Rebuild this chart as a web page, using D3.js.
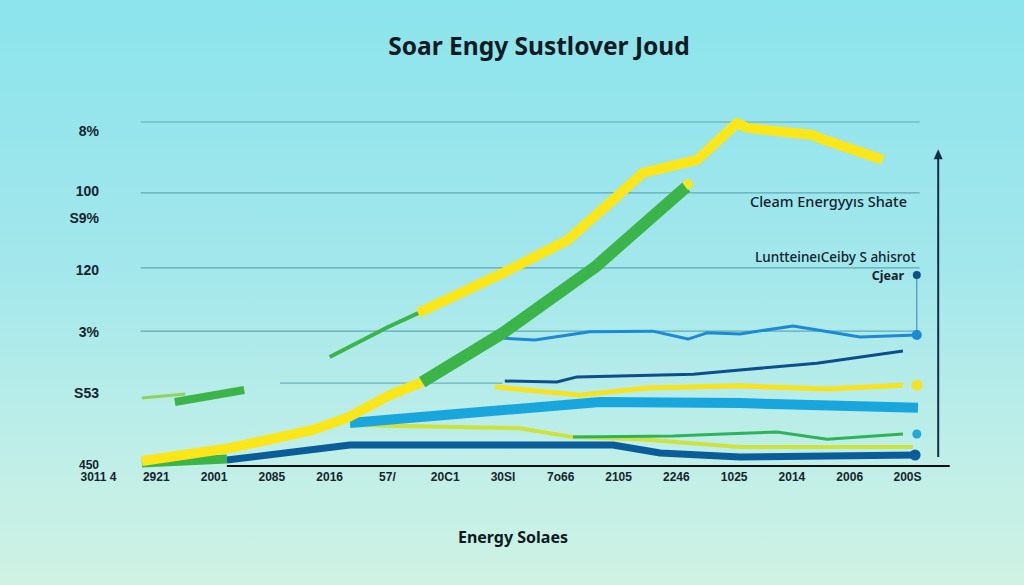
<!DOCTYPE html>
<html>
<head>
<meta charset="utf-8">
<script src="https://cdn.jsdelivr.net/npm/d3@7/dist/d3.min.js"></script>
<style>
  html, body { margin: 0; padding: 0; background: #a6e8ea; }
  svg { display: block; }
</style>
</head>
<body>
<div id="chart"></div>
<script>
// ---------- DATA ----------
const title = "Soar Engy Sustlover Joud";
const xAxisTitle = "Energy Solaes";
const xLabels = ["3011 4","2921","2001","2085","2016","57/","20C1","30Sl","7o66","2105","2246","1025","2014","2006","200S"];
const yTickLabels = ["8%","100","S9%","120","3%","S53","450"];
const yTickValues = [97.4, 80.2, 72.1, 57.0, 39.0, 21.2, 0.6];
const gridValues = [100, 79.4, 57.6, 39.2];
const partialGrid = [[3.15, 24.1], [7.0, 24.1]];

// series: [x index, value]
const solarLow = [[0.76,1.45],[2.28,5.2],[3.72,10.5],[4.31,14.0],[5.05,20.6],[5.61,24.4]];
const windMain = [[5.61,24.4],[7.01,38.7],[8.60,57.8],[10.18,81.1]];
const windCap = [[10.16,81.3],[10.27,82.7]];
const windEarly = [[4.01,31.7],[5.02,40.4],[5.56,44.6]];
const solarHigh = [[5.54,44.5],[7.01,56.1],[8.13,65.7],[8.91,77.3],[9.43,85.2],[10.37,89.0],[11.06,99.7],[11.23,98.3],[12.37,96.2],[12.49,95.3],[13.58,89.0]];
const windBlock = [[1.33,18.6],[2.53,22.1]];
const windBlockLead = [[0.76,19.8],[1.51,20.9]];
const windBase = [[0.76,0.9],[2.23,2.0]];
const hydroThick = [[2.23,1.74],[4.36,6.1],[8.91,6.1],[9.73,3.8],[11.11,2.6],[14.17,3.2]];
const bioThick = [[4.36,12.5],[6.61,15.7],[8.69,18.6],[11.11,18.3],[14.19,16.9]];
const limeThin = [[4.36,11.9],[7.30,11.0],[8.22,8.4],[9.38,7.8],[11.11,5.5],[14.10,5.5]];
const greenThin = [[8.22,8.4],[9.95,8.7],[10.82,9.3],[11.75,9.9],[12.62,7.8],[13.93,9.3]];
const yellowThin = [[6.87,23.0],[8.34,20.6],[9.50,22.7],[11.11,23.3],[12.62,22.4],[13.93,23.5]];
const navyThin = [[7.04,24.7],[7.94,24.4],[8.29,25.9],[10.30,26.7],[11.11,27.9],[12.44,29.9],[13.93,33.4]];
const blueThin = [[6.96,37.2],[7.56,36.6],[8.51,39.0],[9.60,39.2],[10.21,36.9],[10.54,38.7],[11.11,38.4],[12.03,40.7],[13.19,37.5],[14.17,38.1]];
const endDots = [[14.17,55.5,"navy"],[14.17,38.1,"blue"],[14.17,23.5,"yellow"],[14.17,9.3,"sky"],[14.14,3.2,"navyBig"]];
const annotations = [
  {text:"Cleam Energyyıs Shate", x:14.0, v:76.8, size:14.5, weight:500},
  {text:"Luntteine\u0131Ceiby S ahisrot", x:14.15, v:60.8, size:13.5, weight:500},
  {text:"Cjear", x:13.95, v:55.2, size:12.5, weight:700}
];

// ---------- SETUP ----------
const W = 1024, H = 585;
const x = d3.scaleLinear().domain([0, 14]).range([98, 907]);
const y = d3.scaleLinear().domain([0, 100]).range([466, 122]);

const svg = d3.select("#chart").append("svg").attr("width", W).attr("height", H);
const defs = svg.append("defs");
const grad = defs.append("linearGradient").attr("id","bg").attr("x1",0).attr("y1",0).attr("x2",0).attr("y2",1);
grad.append("stop").attr("offset","0%").attr("stop-color","#8ce4ec");
grad.append("stop").attr("offset","45%").attr("stop-color","#a2e7ec");
grad.append("stop").attr("offset","75%").attr("stop-color","#bdeee8");
grad.append("stop").attr("offset","100%").attr("stop-color","#cff2e3");
svg.append("rect").attr("width",W).attr("height",H).attr("fill","url(#bg)");

// title
svg.append("text").attr("x", 539).attr("y", 55).attr("text-anchor","middle")
  .attr("font-family","'Noto Sans', sans-serif").attr("font-weight",700).attr("font-size",24.5)
  .attr("fill","#0c1a22").text(title);

// gridlines
svg.append("g").selectAll("line").data(gridValues).join("line")
  .attr("x1", x(0.74)).attr("x2", x(14.22))
  .attr("y1", d => y(d)).attr("y2", d => y(d))
  .attr("stroke","#5ea9b6").attr("stroke-width",1.2);
svg.append("line").attr("x1", x(partialGrid[0][0])).attr("x2", x(partialGrid[1][0]))
  .attr("y1", y(partialGrid[0][1])).attr("y2", y(partialGrid[1][1]))
  .attr("stroke","#6fb2c0").attr("stroke-width",1.2);

// axes
const yAxis = d3.axisLeft(y).tickValues(yTickValues).tickFormat((d,i)=>yTickLabels[i]).tickSize(0).tickPadding(0);
svg.append("g").attr("transform","translate(99,0)").call(yAxis)
  .call(g => g.select(".domain").remove())
  .call(g => g.selectAll("text").attr("font-family","'Liberation Sans', Arial, sans-serif")
     .attr("font-weight",700).attr("font-size",(d,i)=> i === yTickLabels.length-1 ? 12 : 14)
     .attr("fill","#16242e").attr("dy","0.35em"));

const xAxis = d3.axisBottom(x).tickValues(d3.range(xLabels.length)).tickFormat(i=>xLabels[i]).tickSize(0).tickPadding(0);
svg.append("g").attr("transform","translate(0,477)").call(xAxis)
  .call(g => g.select(".domain").remove())
  .call(g => g.selectAll("text").attr("y",0).attr("dy","0.35em")
     .attr("font-family","'Liberation Sans', Arial, sans-serif").attr("font-weight",700)
     .attr("font-size",12).attr("fill","#16242e"));

svg.append("text").attr("x", 513).attr("y", 543).attr("text-anchor","middle")
  .attr("font-family","'Noto Sans', sans-serif").attr("font-weight",700).attr("font-size",16)
  .attr("fill","#0c1a22").text(xAxisTitle);

// baseline and right arrow axis
svg.append("line").attr("x1", x(2.23)).attr("x2", x(14.74)).attr("y1", y(0)).attr("y2", y(0))
  .attr("stroke","#0b0f12").attr("stroke-width",2);
const ax = x(14.54), aTop = y(91.8);
svg.append("line").attr("x1", ax).attr("x2", ax).attr("y1", y(2.6)).attr("y2", aTop + 6)
  .attr("stroke","#12304a").attr("stroke-width",2);
svg.append("path").attr("d", d3.line()([[ax - 4.5, aTop + 9], [ax, aTop - 1], [ax + 4.5, aTop + 9]]) + "Z")
  .attr("fill","#12304a");

// connector on the right
svg.append("line").attr("x1", x(14.17)).attr("x2", x(14.17)).attr("y1", y(55.5)).attr("y2", y(38.1))
  .attr("stroke","#3b7fae").attr("stroke-width",1);

// ---------- LINES ----------
const line = d3.line().x(d => x(d[0])).y(d => y(d[1])).curve(d3.curveLinear);
function draw(data, color, width, cap) {
  svg.append("path").datum(data).attr("d", line).attr("fill","none")
    .attr("stroke", color).attr("stroke-width", width)
    .attr("stroke-linejoin","round").attr("stroke-linecap", cap || "butt");
}

draw(limeThin, "#cde23c", 4);
draw(greenThin, "#2fb25a", 3);
draw(hydroThick, "#0b5d9a", 7);
draw(bioThick, "#19a6dd", 10);
draw(yellowThin, "#f6e21e", 5);
draw(navyThin, "#0e4f8a", 3);
draw(blueThin, "#1f8ad4", 3);
draw(windBase, "#3bb54a", 9);
draw(solarLow, "#fbe61a", 10);
draw(windMain, "#3bb54a", 12);
draw(windCap, "#fbe61a", 9);
draw(windEarly, "#3bb54a", 4);
draw(solarHigh, "#fbe61a", 10);
draw(windBlockLead, "#8fd35a", 3);
draw(windBlock, "#3bb54a", 8);

// end dots
const dotStyle = {navy:["#0e4f8a",4], blue:["#1f8ad4",5], yellow:["#f6e21e",5.5], sky:["#1fa8d8",4.5], navyBig:["#0b5d9a",5.5]};
svg.append("g").selectAll("circle").data(endDots).join("circle")
  .attr("cx", d => x(d[0])).attr("cy", d => y(d[1]))
  .attr("r", d => dotStyle[d[2]][1]).attr("fill", d => dotStyle[d[2]][0]);

// annotations
svg.append("g").selectAll("text").data(annotations).join("text")
  .attr("x", d => x(d.x)).attr("y", d => y(d.v)).attr("dy","0.35em").attr("text-anchor","end")
  .attr("font-family","'Noto Sans', sans-serif").attr("font-size", d => d.size)
  .attr("font-weight", d => d.weight).attr("fill","#10222e").text(d => d.text);
</script>
</body>
</html>
